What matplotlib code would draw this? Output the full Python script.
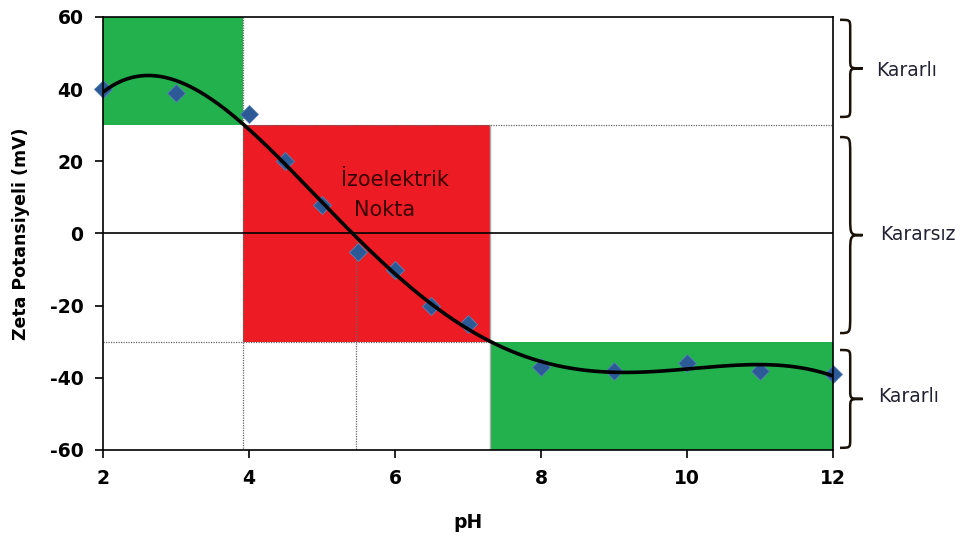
import numpy as np
import matplotlib.pyplot as plt
from matplotlib.path import Path
from matplotlib.patches import PathPatch, Rectangle

plt.rcParams['font.family'] = ['DejaVu Sans']
plt.rcParams['axes.unicode_minus'] = False

# veriler
ph = [2, 3, 4, 4.5, 5, 5.5, 6, 6.5, 7, 8, 9, 10, 11, 12]
zeta = [40, 39, 33, 20, 8, -5, -10, -20, -25, -37, -38, -36, -38, -39]

band = 30          # kararlılık sınırı (mV)
ph_low = 3.92      # üst kararlı bölgenin bittiği pH
ph_high = 7.3      # alt kararlı bölgenin başladığı pH
ph_iep = 5.47      # izoelektrik nokta

green = '#22B14C'
red = '#ED1C24'

fig = plt.figure(figsize=(9.76, 5.4), dpi=100)
ax = fig.add_axes([0.1055, 0.1667, 0.748, 0.8019])
ax.set_xlim(2, 12)
ax.set_ylim(-60, 60)

# bölgeler
ax.add_patch(Rectangle((2, band), ph_low - 2, 60 - band, color=green, zorder=1, lw=0))
ax.add_patch(Rectangle((ph_low, -band), ph_high - ph_low, 2 * band, color=red, zorder=1, lw=0))
ax.add_patch(Rectangle((ph_high, -60), 12 - ph_high, 60 - band, color=green, zorder=1, lw=0))

# noktalı çizgiler
dot = dict(color='#666666', lw=0.9, ls=(0, (1, 1)), zorder=2)
ax.plot([ph_low, 12], [band, band], **dot)
ax.plot([2, ph_high], [-band, -band], **dot)
ax.plot([ph_low, ph_low], [60, -60], **dot)
ax.plot([ph_iep, ph_iep], [0, -60], **dot)
ax.plot([ph_high, ph_high], [band, -60], color='#aaaaaa', lw=1.0, zorder=2)
ax.axhline(0, color='black', lw=1.2, zorder=2)

# veri noktaları ve eğilim eğrisi (5. derece polinom)
ax.plot(ph, zeta, ls='none', marker='D', ms=9.5, color='#2B5A96',
        mec='#5B82B8', mew=0.6, zorder=3, clip_on=False)
coef = np.polyfit(ph, zeta, 5)
xs = np.linspace(2, 12, 300)
ax.plot(xs, np.polyval(coef, xs), color='black', lw=2.6, zorder=4)

ax.text(5.26, 14.8, 'İzoelektrik', fontsize=15, color='#3a0000', ha='left', va='center', zorder=5)
ax.text(5.44, 6.6, 'Nokta', fontsize=15, color='#3a0000', ha='left', va='center', zorder=5)

# eksenler
ax.set_xticks([2, 4, 6, 8, 10, 12])
ax.set_yticks([-60, -40, -20, 0, 20, 40, 60])
ax.tick_params(direction='out', length=6, width=1.2, pad=8, labelsize=13.5)
for lab in ax.get_xticklabels() + ax.get_yticklabels():
    lab.set_fontweight('bold')
for sp in ax.spines.values():
    sp.set_linewidth(1.2)
    sp.set_zorder(6)
ax.set_xlabel('pH', fontsize=13.5, fontweight='bold', labelpad=18)
ax.set_ylabel('Zeta Potansiyeli (mV)', fontsize=12.5, fontweight='bold', labelpad=14)


def brace(y_top, y_bot, x0=1.0096, w=0.031):
    xm = x0 + w * 0.45
    xt = x0 + w
    ym = (y_top + y_bot) / 2
    q = (y_top - y_bot) * 0.09
    verts = [(x0, y_top),
             (xm, y_top), (xm, y_top), (xm, y_top - q),
             (xm, ym + q),
             (xm, ym), (xm, ym), (xt, ym),
             (xm, ym), (xm, ym), (xm, ym - q),
             (xm, y_bot + q),
             (xm, y_bot), (xm, y_bot), (x0, y_bot)]
    codes = [Path.MOVETO,
             Path.CURVE4, Path.CURVE4, Path.CURVE4,
             Path.LINETO,
             Path.CURVE4, Path.CURVE4, Path.CURVE4,
             Path.CURVE4, Path.CURVE4, Path.CURVE4,
             Path.LINETO,
             Path.CURVE4, Path.CURVE4, Path.CURVE4]
    p = PathPatch(Path(verts, codes), fc='none', ec='#1a1208', lw=1.8,
                  transform=ax.get_yaxis_transform(), clip_on=False)
    ax.add_patch(p)


brace(59.2, 32.3)
brace(26.7, -27.6)
brace(-32.3, -59.4)

tr = ax.get_yaxis_transform()
ax.text(1.059, 45.3, 'Kararlı', transform=tr, fontsize=13.5, color='#222233', va='center')
ax.text(1.064, -0.4, 'Kararsız', transform=tr, fontsize=13.5, color='#222233', va='center')
ax.text(1.062, -45.3, 'Kararlı', transform=tr, fontsize=13.5, color='#222233', va='center')

fig.savefig('out.png', dpi=100)
